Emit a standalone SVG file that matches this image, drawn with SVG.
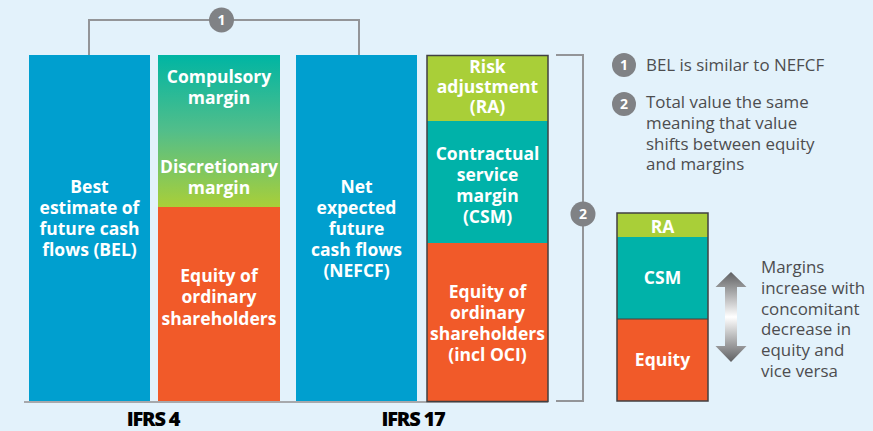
<svg xmlns="http://www.w3.org/2000/svg" width="873" height="431" viewBox="0 0 873 431">
<defs>
<linearGradient id="mg" x1="0" y1="0" x2="0" y2="1">
<stop offset="0" stop-color="#00B5A3"/>
<stop offset="0.5" stop-color="#52BE8A"/>
<stop offset="1" stop-color="#A9CF38"/>
</linearGradient>
<linearGradient id="ag" x1="0" y1="0" x2="0" y2="1">
<stop offset="0" stop-color="#5F6062"/>
<stop offset="0.5" stop-color="#FFFFFF"/>
<stop offset="1" stop-color="#5F6062"/>
</linearGradient>
<style>
.lbl{font-family:"Open Sans","DejaVu Sans",sans-serif;font-weight:bold;font-size:17.5px;fill:#fff;text-anchor:middle}
.leg{font-family:"Open Sans","DejaVu Sans",sans-serif;font-size:16.9px;fill:#4D4D4F}
.num{font-family:"Open Sans","DejaVu Sans",sans-serif;font-weight:bold;font-size:14px;fill:#fff;text-anchor:middle}
.ttl{font-family:"Open Sans","DejaVu Sans",sans-serif;font-weight:800;font-size:20px;fill:#000;text-anchor:middle;letter-spacing:-1.2px}
.brk{fill:none;stroke:#939598;stroke-width:2}
.badge{fill:#808285}
.out{fill:none;stroke:#414042;stroke-width:1.5}
</style>
</defs>
<rect width="873" height="431" fill="#E3F2FB"/>

<g id="connectors">
<polyline class="brk" points="89,55 89,20 359,20 359,55"/>
<polyline class="brk" points="556,55 583,55 583,401 556,401"/>
<line x1="24" y1="402" x2="548" y2="402" stroke="#A7A9AC" stroke-width="2"/>
</g>

<g id="badge1-top">
<circle class="badge" cx="221.5" cy="20" r="12.5"/>
<text class="num" x="221.5" y="25">1</text>
</g>
<g id="badge2-side">
<circle class="badge" cx="583" cy="214" r="12.5"/>
<text class="num" x="583" y="219">2</text>
</g>

<g id="bel">
<rect x="29" y="55" width="121" height="346" fill="#009FCF"/>
<text class="lbl"><tspan x="89.5" y="193">Best</tspan><tspan x="89.5" y="214">estimate of</tspan><tspan x="89.5" y="235">future cash</tspan><tspan x="89.5" y="256">flows (BEL)</tspan></text>
</g>

<g id="margins-ifrs4">
<rect x="158" y="55" width="122" height="152" fill="url(#mg)"/>
<text class="lbl"><tspan x="219" y="83">Compulsory</tspan><tspan x="219" y="104">margin</tspan><tspan x="219" y="173">Discretionary</tspan><tspan x="219" y="194">margin</tspan></text>
</g>
<g id="equity-ifrs4">
<rect x="158" y="207" width="122" height="194" fill="#F15A29"/>
<text class="lbl"><tspan x="219" y="282">Equity of</tspan><tspan x="219" y="303">ordinary</tspan><tspan x="219" y="325">shareholders</tspan></text>
</g>

<g id="nefcf">
<rect x="296" y="55" width="121" height="346" fill="#009FCF"/>
<text class="lbl"><tspan x="356.5" y="193">Net</tspan><tspan x="356.5" y="214">expected</tspan><tspan x="356.5" y="235">future</tspan><tspan x="356.5" y="256">cash flows</tspan><tspan x="356.5" y="277">(NEFCF)</tspan></text>
</g>

<g id="ra">
<rect x="427" y="56" width="121" height="65" fill="#A9CF38"/>
<text class="lbl"><tspan x="487.5" y="73">Risk</tspan><tspan x="487.5" y="93">adjustment</tspan><tspan x="487.5" y="113">(RA)</tspan></text>
</g>
<g id="csm">
<rect x="427" y="121" width="121" height="122" fill="#00B2A9"/>
<text class="lbl"><tspan x="487.5" y="160">Contractual</tspan><tspan x="487.5" y="181">service</tspan><tspan x="487.5" y="202">margin</tspan><tspan x="487.5" y="223">(CSM)</tspan></text>
</g>
<g id="equity-ifrs17">
<rect x="427" y="243" width="121" height="158" fill="#F15A29"/>
<text class="lbl"><tspan x="487.5" y="298">Equity of</tspan><tspan x="487.5" y="319">ordinary</tspan><tspan x="487.5" y="340">shareholders</tspan><tspan x="487.5" y="361">(incl OCI)</tspan></text>
</g>
<rect class="out" x="427" y="55.5" width="121" height="346"/>

<g id="title-ifrs4"><text class="ttl" x="153" y="426">IFRS 4</text></g>
<g id="title-ifrs17"><text class="ttl" x="413" y="426">IFRS 17</text></g>

<g id="legend1">
<circle class="badge" cx="624" cy="65" r="12"/>
<text class="num" x="624" y="70">1</text>
<text class="leg" x="646" y="71">BEL is similar to NEFCF</text>
</g>
<g id="legend2">
<circle class="badge" cx="624" cy="104" r="12"/>
<text class="num" x="624" y="109">2</text>
<text class="leg"><tspan x="646" y="108">Total value the same</tspan><tspan x="646" y="129">meaning that value</tspan><tspan x="646" y="149.5">shifts between equity</tspan><tspan x="646" y="170">and margins</tspan></text>
</g>

<g id="small-ra">
<rect x="617" y="213" width="91" height="24" fill="#A9CF38"/>
<text class="lbl" x="662.5" y="233">RA</text>
</g>
<g id="small-csm">
<rect x="617" y="237" width="91" height="82" fill="#00B2A9"/>
<text class="lbl" x="662.5" y="284">CSM</text>
</g>
<g id="small-equity">
<rect x="617" y="319" width="91" height="82" fill="#F15A29"/>
<text class="lbl" x="662.5" y="366">Equity</text>
</g>
<rect class="out" x="617" y="213" width="91" height="188"/>
<line x1="617" y1="319" x2="708" y2="319" stroke="#414042" stroke-width="1"/>

<g id="double-arrow">
<polygon points="731,272 746.5,287 737,287 737,346 746.5,346 731,362 715.5,346 725,346 725,287 715.5,287" fill="url(#ag)"/>
</g>

<g id="arrow-note">
<text class="leg"><tspan x="761" y="273">Margins</tspan><tspan x="761" y="294">increase with</tspan><tspan x="761" y="314.5">concomitant</tspan><tspan x="761" y="335">decrease in</tspan><tspan x="761" y="356">equity and</tspan><tspan x="761" y="376.5">vice versa</tspan></text>
</g>
</svg>
